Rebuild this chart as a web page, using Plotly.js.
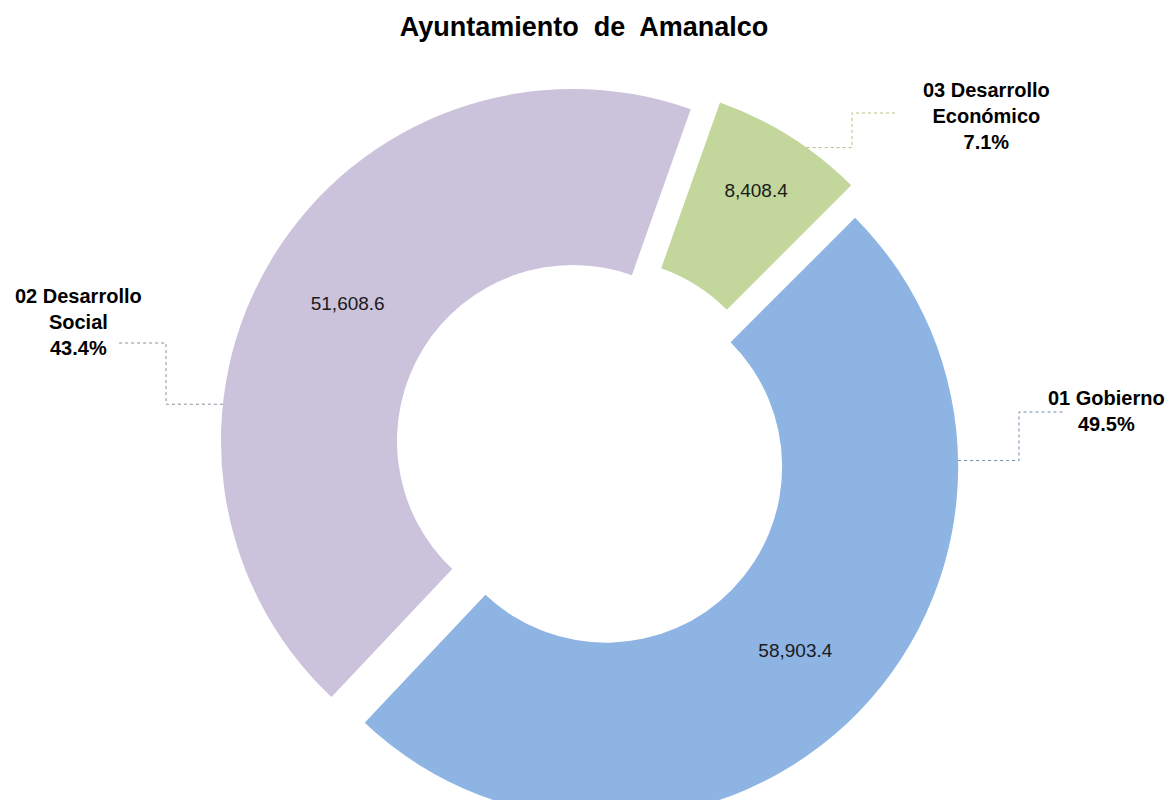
<!DOCTYPE html>
<html>
<head>
<meta charset="utf-8">
<script src="https://cdn.plot.ly/plotly-3.0.1.min.js"></script>
<style>
html,body{margin:0;padding:0;overflow:hidden;background:#ffffff;}
#chart{width:1171px;height:900px;}
</style>
</head>
<body>
<div id="chart"></div>
<script>
// ---- data ----
const chartTitle = 'Ayuntamiento&nbsp; de&nbsp; Amanalco';
const categories = ['01 Gobierno', '02 Desarrollo Social', '03 Desarrollo Económico'];
const labelLines = [['01 Gobierno'], ['02 Desarrollo', 'Social'], ['03 Desarrollo', 'Económico']];
const values = [58903.4, 51608.6, 8408.4];

// ---- styles ----
const colors = ['#8EB4E3', '#CBC2DB', '#C3D69B'];
const leaderColors = ['#7388B0', '#8C8C9E', '#BABD7C'];
const FONT = 'Liberation Sans, Arial, sans-serif';

// ---- geometry (pixels) ----
const W = 1171, H = 900;
const CX = 591, CY = 452, R = 352, PULL = 0.06, HOLE = 0.5, ROT = 45;
const ext = R * (1 + PULL);

const total = values.reduce((a, b) => a + b, 0);
const mids = [];
let acc = ROT;
values.forEach(v => { const span = v / total * 360; mids.push(acc + span / 2); acc += span; });

function piePoint(i, angDeg) {
  const m = mids[i] * Math.PI / 180, a = angDeg * Math.PI / 180, s = PULL * R;
  return [CX + s * Math.sin(m) + R * Math.sin(a), CY - s * Math.cos(m) - R * Math.cos(a)];
}
const px = x => x / W;
const py = y => 1 - y / H;

// label layout: attach angle on slice, elbow x, label-row y, end x, label center
const labelLayout = [
  {attach: 89,   elbowX: 1019, rowY: 412, endX: 1065, lx: 1106, ly: 411},
  {attach: 276,  elbowX: 166,  rowY: 343, endX: 118,  lx: 78,   ly: 322},
  {attach: 35.5, elbowX: 852,  rowY: 113, endX: 898,  lx: 986,  ly: 116}
];

const shapes = [];
const annotations = [];
labelLayout.forEach((L, i) => {
  const p = piePoint(i, L.attach);
  const path = 'M ' + px(p[0]) + ' ' + py(p[1]) +
               ' L ' + px(L.elbowX) + ' ' + py(p[1]) +
               ' L ' + px(L.elbowX) + ' ' + py(L.rowY) +
               ' L ' + px(L.endX) + ' ' + py(L.rowY);
  shapes.push({type: 'path', xref: 'paper', yref: 'paper', path: path,
    line: {color: leaderColors[i], width: 1, dash: 'dot'}});
  const pct = (values[i] / total * 100).toFixed(1) + '%';
  annotations.push({
    xref: 'paper', yref: 'paper', x: px(L.lx), y: py(L.ly),
    xanchor: 'center', yanchor: 'middle', align: 'center', showarrow: false,
    text: '<b>' + labelLines[i].concat([pct]).join('<br>') + '</b>',
    font: {family: FONT, size: 20, color: '#000000'}
  });
});

const trace = {
  type: 'pie',
  labels: categories,
  values: values,
  sort: false,
  direction: 'clockwise',
  rotation: ROT,
  hole: HOLE,
  pull: PULL,
  marker: {colors: colors, line: {width: 0}},
  texttemplate: '%{value:,.1f}',
  textposition: 'inside',
  insidetextorientation: 'horizontal',
  textfont: {family: FONT, size: 19, color: '#1a1a1a'},
  hoverinfo: 'none',
  showlegend: false,
  domain: {x: [px(CX - ext), px(CX + ext)], y: [py(CY + ext), py(CY - ext)]}
};

const layout = {
  width: W, height: H,
  margin: {l: 0, r: 0, t: 0, b: 0},
  paper_bgcolor: '#ffffff',
  title: {
    text: '<b>' + chartTitle + '</b>',
    font: {family: FONT, size: 27, color: '#000000'},
    x: 584 / W, xanchor: 'center', xref: 'paper',
    y: 1 - 27 / H, yanchor: 'middle', yref: 'container'
  },
  shapes: shapes,
  annotations: annotations,
  showlegend: false
};

Plotly.newPlot('chart', [trace], layout, {displayModeBar: false, staticPlot: true});
</script>
</body>
</html>
